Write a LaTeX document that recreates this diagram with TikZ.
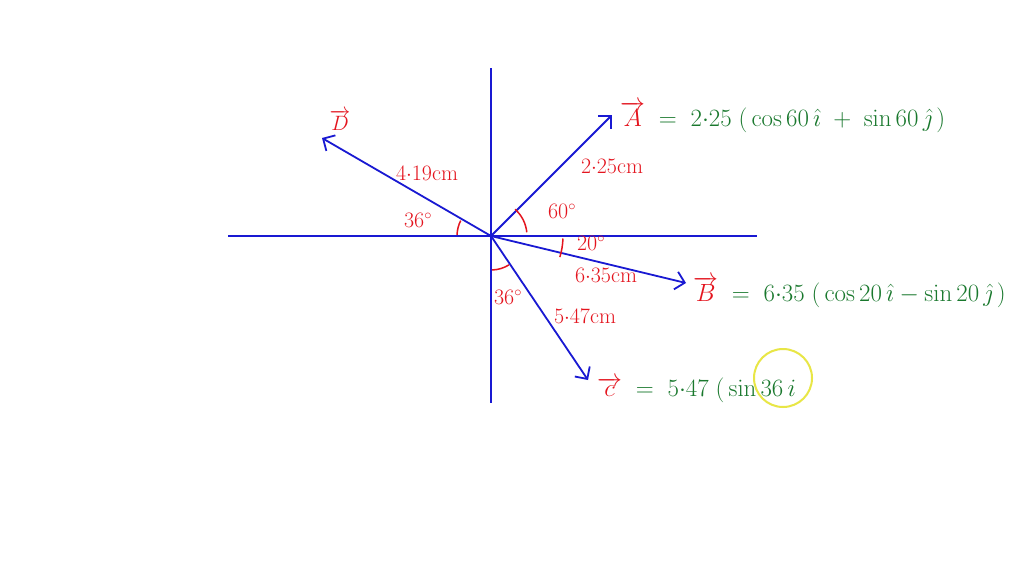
\documentclass[tikz,border=0pt]{standalone}
\usetikzlibrary{arrows.meta}
\definecolor{vblue}{RGB}{25,25,210}
\definecolor{vred}{RGB}{228,20,30}
\definecolor{vgreen}{RGB}{25,120,45}
\definecolor{vyellow}{RGB}{232,230,70}
\begin{document}
\begin{tikzpicture}[x=1pt,y=-1pt,
 axis/.style={vblue, line width=1.8pt},
 vec/.style={vblue, line width=1.8pt, -{Straight Barb[length=9pt,width=18pt]}},
 lbl/.style={vred, font=\fontsize{22}{26}\selectfont, inner sep=0pt},
 eq/.style={vgreen, font=\fontsize{28}{32}\selectfont, anchor=west, inner sep=0pt},
 ang/.style={vred, line width=1.5pt}]
\useasboundingbox[fill=white] (0,0) rectangle (1024,576);
\coordinate (O) at (491,236);
\coordinate (T) at (491,68);
\coordinate (Bt) at (491,403);
\coordinate (L) at (228,236);
\coordinate (R) at (757,236);
\coordinate (A) at (612,115);
\coordinate (B) at (686,283);
\coordinate (C) at (588,380);
\coordinate (D) at (322,138);
\draw[axis] (T) -- (Bt);
\draw[axis] (L) -- (R);
\draw[vec] (O) -- (A);
\draw[vec] (O) -- (B);
\draw[vec] (O) -- (C);
\draw[vec] (O) -- (D);
% angle marks
\draw[ang] (O) ++(-6:36) arc[start angle=-6, end angle=-48, radius=36];
\draw[ang] (O) ++(2:72) arc[start angle=2, end angle=17, radius=72];
\draw[ang] (O) ++(88:34) arc[start angle=88, end angle=58, radius=34];
\draw[ang] (O) ++(-153:34) arc[start angle=-153, end angle=-178, radius=34];
% labels
\node[lbl] (lD) at (340,120) {$\overrightarrow{D}$};
\node[lbl] (lD1) at (427,173) {4$\cdot$19cm};
\node[lbl] (lD2) at (418,220) {36$^\circ$};
\node[lbl] (lA1) at (612,166) {2$\cdot$25cm};
\node[lbl] (lA2) at (562,211) {60$^\circ$};
\node[lbl] (lB1) at (591,243) {20$^\circ$};
\node[lbl] (lB2) at (606,275) {6$\cdot$35cm};
\node[lbl] (lC1) at (508,297) {36$^\circ$};
\node[lbl] (lC2) at (585,316) {5$\cdot$47cm};
% equations
\node[eq] (eA) at (620,117) {$\textcolor{vred}{\overrightarrow{A}} \;=\; 2{\cdot}25\;\big(\cos60\,\hat{\imath} \;+\; \sin60\,\hat{\jmath}\,\big)$};
\node[eq] (eB) at (693,292) {$\textcolor{vred}{\overrightarrow{B}} \;=\; 6{\cdot}35\;\big(\cos20\,\hat{\imath} - \sin20\,\hat{\jmath}\,\big)$};
\node[eq] (eC) at (597,390) {$\textcolor{vred}{\overrightarrow{c}} \;=\; 5{\cdot}47\;\big(\sin36\,i$};
\draw[vyellow, line width=2pt] (783,378) circle[radius=29];
\end{tikzpicture}
\end{document}
